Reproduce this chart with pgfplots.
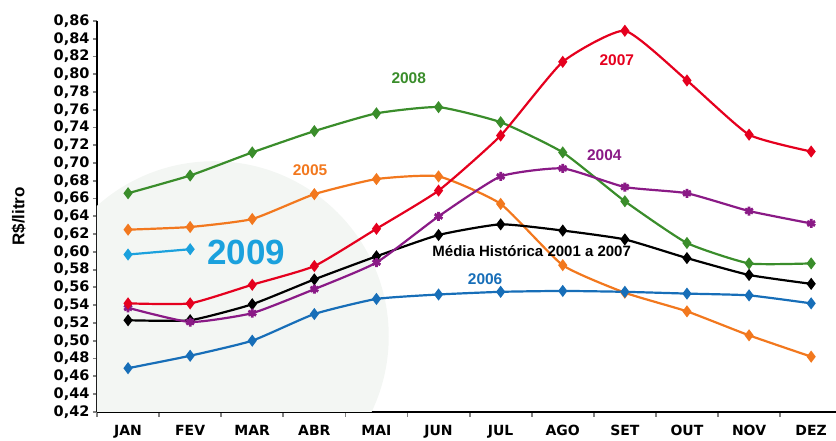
\documentclass[border=0pt]{standalone}
\usepackage{fontspec}
\setmainfont{Liberation Sans}
\newfontfamily\tickfont{DejaVu Sans}
\usepackage{pgfplots}
\pgfplotsset{compat=1.18}
\definecolor{c2008}{HTML}{3A8D2B}
\definecolor{c2007}{HTML}{E5001E}
\definecolor{c2005}{HTML}{F2781E}
\definecolor{c2004}{HTML}{8A1A86}
\definecolor{c2006}{HTML}{176EB8}
\definecolor{c2009}{HTML}{1BA1DD}
\definecolor{bgc}{HTML}{F3F6F3}
\begin{document}
\begin{tikzpicture}
\begin{axis}[
  name=ax,
  scale only axis,
  width=739pt, height=390.7pt,
  xmin=-0.5, xmax=11.4,
  ymin=0.42, ymax=0.86,
  axis x line=bottom, axis y line=left,
  axis line style={-, line width=1.8pt},
  xtick={0,...,11},
  xticklabels={JAN,FEV,MAR,ABR,MAI,JUN,JUL,AGO,SET,OUT,NOV,DEZ},
  major x tick style={draw=none},
  minor xtick={-0.5,0.5,...,10.5},
  minor x tick style={line width=1.8pt},
  minor tick length=5pt,
  ytick={0.42,0.44,...,0.861},
  major y tick style={line width=1.8pt},
  major tick length=4pt,
  tick align=outside,
  xticklabel style={font=\tickfont\bfseries\fontsize{14}{16}\selectfont, yshift=-6pt},
  yticklabel style={font=\tickfont\bfseries\fontsize{14.5}{16}\selectfont,
     /pgf/number format/.cd, fixed, fixed zerofill, precision=2, use comma, assume math mode=true},
  ylabel={R\$/litro},
  ylabel style={font=\bfseries\fontsize{17}{19}\selectfont, at={(axis description cs:-0.106,0.5)}, anchor=center, rotate=0},
  mark options={solid},
]
\fill[bgc] (axis cs:1.38,0.505) circle[radius=175pt];

\addplot[c2005, line width=2.2pt, smooth, /tikz/tension=0.3, mark=diamond*, mark size=4.3pt] coordinates {
(0,0.625) (1,0.628) (2,0.637) (3,0.665) (4,0.682) (5,0.685) (6,0.654) (7,0.585) (8,0.554) (9,0.533) (10,0.506) (11,0.482)};
\addplot[c2008, line width=2.2pt, smooth, /tikz/tension=0.3, mark=diamond*, mark size=4.3pt] coordinates {
(0,0.666) (1,0.686) (2,0.712) (3,0.736) (4,0.756) (5,0.763) (6,0.746) (7,0.712) (8,0.657) (9,0.610) (10,0.587) (11,0.587)};
\addplot[c2006, line width=2.2pt, smooth, /tikz/tension=0.3, mark=diamond*, mark size=4.3pt] coordinates {
(0,0.469) (1,0.483) (2,0.500) (3,0.530) (4,0.547) (5,0.552) (6,0.555) (7,0.556) (8,0.555) (9,0.553) (10,0.551) (11,0.542)};
\addplot[black, line width=2.2pt, smooth, /tikz/tension=0.3, mark=diamond*, mark size=4.3pt] coordinates {
(0,0.523) (1,0.523) (2,0.541) (3,0.569) (4,0.595) (5,0.619) (6,0.631) (7,0.624) (8,0.614) (9,0.593) (10,0.574) (11,0.564)};
\addplot[c2004, line width=2.2pt, smooth, /tikz/tension=0.3, mark=asterisk, mark size=4.5pt, mark options={line width=2.8pt}] coordinates {
(0,0.537) (1,0.521) (2,0.531) (3,0.558) (4,0.588) (5,0.640) (6,0.685) (7,0.694) (8,0.673) (9,0.666) (10,0.646) (11,0.632)};
\addplot[c2007, line width=2.2pt, smooth, /tikz/tension=0.3, mark=diamond*, mark size=4.3pt] coordinates {
(0,0.542) (1,0.542) (2,0.563) (3,0.584) (4,0.626) (5,0.669) (6,0.731) (7,0.814) (8,0.849) (9,0.793) (10,0.732) (11,0.713)};
\addplot[c2009, line width=2.2pt, mark=diamond*, mark size=4.3pt] coordinates {
(0,0.597) (1,0.603)};

\node[c2008, font=\bfseries\fontsize{15.5}{17}\selectfont] at (axis cs:4.52,0.796) {2008};
\node[c2007, font=\bfseries\fontsize{15.5}{17}\selectfont] at (axis cs:7.87,0.8156) {2007};
\node[c2005, font=\bfseries\fontsize{15.5}{17}\selectfont] at (axis cs:2.93,0.692) {2005};
\node[c2004, font=\bfseries\fontsize{15.5}{17}\selectfont] at (axis cs:7.67,0.709) {2004};
\node[c2006, font=\bfseries\fontsize{15.5}{17}\selectfont] at (axis cs:5.75,0.5697) {2006};
\node[black, font=\bfseries\fontsize{15}{17}\selectfont] at (axis cs:6.5,0.6005) {Média Histórica 2001 a 2007};
\node[c2009, font=\bfseries\fontsize{35}{38}\selectfont] at (axis cs:1.90,0.599) {2009};
\end{axis}
\pgfresetboundingbox
\path[use as bounding box] ([xshift=-97pt,yshift=-28.3pt]ax.south west) rectangle ([yshift=21pt]ax.north east);
\end{tikzpicture}
\end{document}
